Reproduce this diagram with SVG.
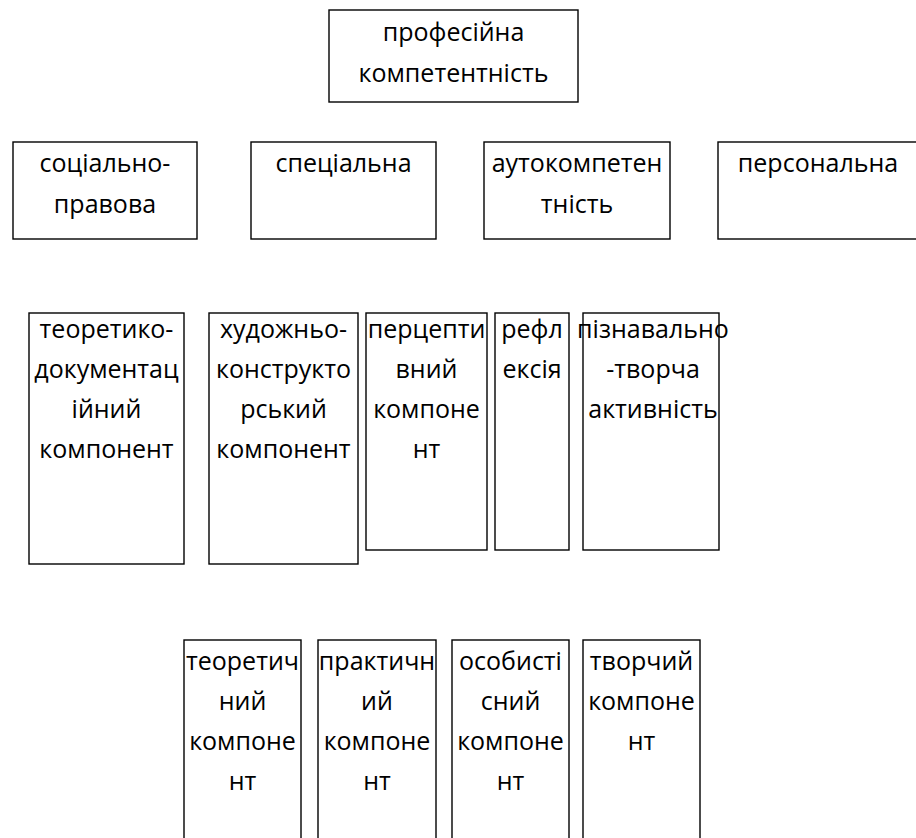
<svg xmlns="http://www.w3.org/2000/svg" width="916" height="838" viewBox="0 0 916 838">
<style>
rect{fill:#fff;stroke:#000;stroke-width:1.4}
text{font-family:"Open Sans","Noto Sans",sans-serif;font-size:25px;fill:#000;text-anchor:middle}
</style>
<rect x="0" y="0" width="916" height="838" style="stroke:none"/>
<g id="connectors"></g>
<g id="n-prof"><rect x="329" y="10" width="249" height="92"/><text x="453.5" y="41">професійна</text><text x="453.5" y="82">компетентність</text></g>
<g id="n-soc"><rect x="13" y="142" width="184" height="97"/><text x="105" y="172">соціально-</text><text x="105" y="213">правова</text></g>
<g id="n-spec"><rect x="251" y="142" width="185" height="97"/><text x="343.5" y="172">спеціальна</text></g>
<g id="n-auto"><rect x="484" y="142" width="186" height="97"/><text x="577" y="172">аутокомпетен</text><text x="577" y="213">тність</text></g>
<g id="n-pers"><rect x="718" y="142" width="200" height="97"/><text x="818" y="172">персональна</text></g>
<g id="n-teor"><rect x="29" y="313" width="155" height="251"/><text x="106.5" y="338">теоретико-</text><text x="106.5" y="378">документац</text><text x="106.5" y="418">ійний</text><text x="106.5" y="458">компонент</text></g>
<g id="n-hud"><rect x="209" y="313" width="149" height="251"/><text x="283.5" y="338">художньо-</text><text x="283.5" y="378">конструкто</text><text x="283.5" y="418">рський</text><text x="283.5" y="458">компонент</text></g>
<g id="n-perc"><rect x="366" y="313" width="121" height="237"/><text x="426.5" y="338">перцепти</text><text x="426.5" y="378">вний</text><text x="426.5" y="418">компоне</text><text x="426.5" y="458">нт</text></g>
<g id="n-refl"><rect x="495" y="313" width="74" height="237"/><text x="532" y="338">рефл</text><text x="532" y="378">ексія</text></g>
<g id="n-pizn"><rect x="583" y="313" width="136" height="237"/><text x="653" y="338">пізнавально</text><text x="653" y="378">-творча</text><text x="653" y="418">активність</text></g>
<g id="n-teoret"><rect x="184" y="640" width="117" height="210"/><text x="242.5" y="670">теоретич</text><text x="242.5" y="710">ний</text><text x="242.5" y="750">компоне</text><text x="242.5" y="790">нт</text></g>
<g id="n-prakt"><rect x="318" y="640" width="118" height="210"/><text x="377" y="670">практичн</text><text x="377" y="710">ий</text><text x="377" y="750">компоне</text><text x="377" y="790">нт</text></g>
<g id="n-osob"><rect x="452" y="640" width="117" height="210"/><text x="510.5" y="670">особисті</text><text x="510.5" y="710">сний</text><text x="510.5" y="750">компоне</text><text x="510.5" y="790">нт</text></g>
<g id="n-tvor"><rect x="583" y="640" width="117" height="210"/><text x="641.5" y="670">творчий</text><text x="641.5" y="710">компоне</text><text x="641.5" y="750">нт</text></g>
</svg>
